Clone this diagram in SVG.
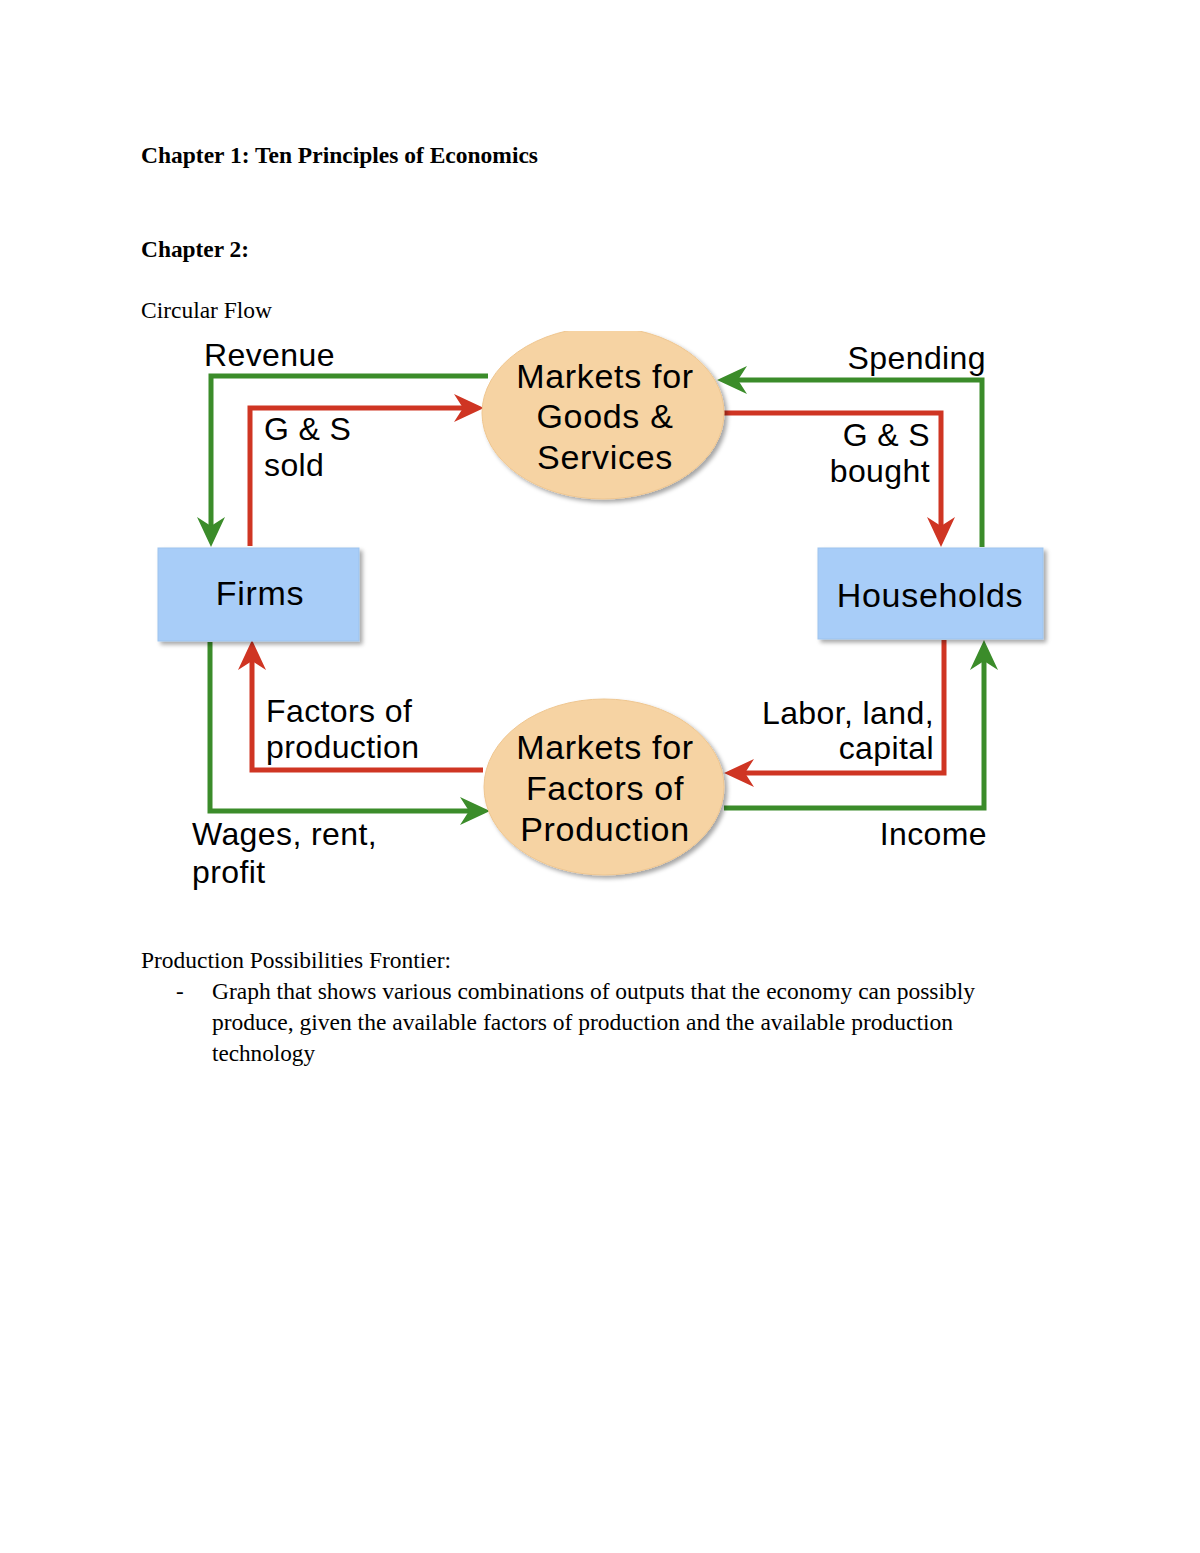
<svg xmlns="http://www.w3.org/2000/svg" width="1200" height="1553" viewBox="0 0 1200 1553">
<style>
.doc{font-family:"Liberation Serif","Times New Roman",serif;font-size:23px;fill:#000}
.b{font-weight:bold}
.lbl{font-family:"Liberation Sans",Arial,sans-serif;font-size:32px;letter-spacing:0.4px;fill:#000}
.nd{font-family:"Liberation Sans",Arial,sans-serif;font-size:34px;letter-spacing:0.7px;fill:#000;text-anchor:middle}
.g{fill:none;stroke:#3b8c2a;stroke-width:5}
.r{fill:none;stroke:#cf3523;stroke-width:5}
.box{fill:#a8cdf8;stroke:#9dc3ee;stroke-width:1}
.ell{fill:#f6d3a3;stroke:#efc690;stroke-width:1}
</style>
<defs>
<filter id="sh" x="-10%" y="-10%" width="130%" height="130%">
<feDropShadow dx="3" dy="3" stdDeviation="2" flood-color="#000" flood-opacity="0.35"/>
</filter>
<clipPath id="clipTop"><rect x="0" y="331" width="1200" height="300"/></clipPath>
<marker id="ag" viewBox="0 0 30 30" refX="18" refY="15" markerWidth="30" markerHeight="30" markerUnits="userSpaceOnUse" orient="auto">
<path d="M0,1 L30,15 L0,29 L9,15 Z" fill="#3b8c2a"/>
</marker>
<marker id="ar" viewBox="0 0 30 30" refX="18" refY="15" markerWidth="30" markerHeight="30" markerUnits="userSpaceOnUse" orient="auto">
<path d="M0,1 L30,15 L0,29 L9,15 Z" fill="#cf3523"/>
</marker>
</defs>
<rect width="1200" height="1553" fill="#fff"/>

<g id="document-text">
<text class="doc b" x="141" y="163" textLength="397" lengthAdjust="spacingAndGlyphs">Chapter 1: Ten Principles of Economics</text>
<text class="doc b" x="141" y="257" textLength="108" lengthAdjust="spacingAndGlyphs">Chapter 2:</text>
<text class="doc" x="141" y="318" textLength="131" lengthAdjust="spacingAndGlyphs">Circular Flow</text>
<text class="doc" x="141" y="968" textLength="310" lengthAdjust="spacingAndGlyphs">Production Possibilities Frontier:</text>
<text class="doc" x="176" y="999">-</text>
<text class="doc" x="212" y="999" textLength="763" lengthAdjust="spacingAndGlyphs">Graph that shows various combinations of outputs that the economy can possibly</text>
<text class="doc" x="212" y="1030" textLength="741" lengthAdjust="spacingAndGlyphs">produce, given the available factors of production and the available production</text>
<text class="doc" x="212" y="1061" textLength="103" lengthAdjust="spacingAndGlyphs">technology</text>
</g>

<g id="connectors">
<path class="g" d="M488,376 H211 V535" marker-end="url(#ag)"/>
<path class="r" d="M250,546 V408 H472" marker-end="url(#ar)"/>
<path class="g" d="M982,547 V380 H729" marker-end="url(#ag)"/>
<path class="r" d="M724,413 H941 V535" marker-end="url(#ar)"/>
<path class="r" d="M483,770 H252 V652" marker-end="url(#ar)"/>
<path class="g" d="M210,642 V811 H478" marker-end="url(#ag)"/>
<path class="r" d="M944,640 V773 H736" marker-end="url(#ar)"/>
<path class="g" d="M724,808 H984 V652" marker-end="url(#ag)"/>
</g>

<g id="connector-labels">
<text class="lbl" x="204" y="366">Revenue</text>
<text class="lbl" x="264" y="440">G &amp; S</text>
<text class="lbl" x="264" y="476">sold</text>
<text class="lbl" x="986" y="369" text-anchor="end">Spending</text>
<text class="lbl" x="930" y="446" text-anchor="end">G &amp; S</text>
<text class="lbl" x="930" y="482" text-anchor="end">bought</text>
<text class="lbl" x="266" y="722">Factors of</text>
<text class="lbl" x="266" y="758">production</text>
<text class="lbl" x="192" y="845">Wages, rent,</text>
<text class="lbl" x="192" y="883">profit</text>
<text class="lbl" x="934" y="724" text-anchor="end">Labor, land,</text>
<text class="lbl" x="934" y="759" text-anchor="end">capital</text>
<text class="lbl" x="987" y="845" text-anchor="end">Income</text>
</g>

<g id="markets-goods">
<g clip-path="url(#clipTop)">
<ellipse class="ell" cx="603" cy="413" rx="121" ry="86" filter="url(#sh)"/>
</g>
<text class="nd" x="605" y="388">Markets for</text>
<text class="nd" x="605" y="428">Goods &amp;</text>
<text class="nd" x="605" y="469">Services</text>
</g>

<g id="markets-factors">
<ellipse class="ell" cx="604" cy="787" rx="120" ry="88" filter="url(#sh)"/>
<text class="nd" x="605" y="759">Markets for</text>
<text class="nd" x="605" y="800">Factors of</text>
<text class="nd" x="605" y="841">Production</text>
</g>

<g id="firms">
<rect class="box" x="158" y="548" width="201" height="93" filter="url(#sh)"/>
<text class="nd" x="260" y="605">Firms</text>
</g>

<g id="households">
<rect class="box" x="818" y="548" width="225" height="91" filter="url(#sh)"/>
<text class="nd" x="930" y="607">Households</text>
</g>
</svg>
